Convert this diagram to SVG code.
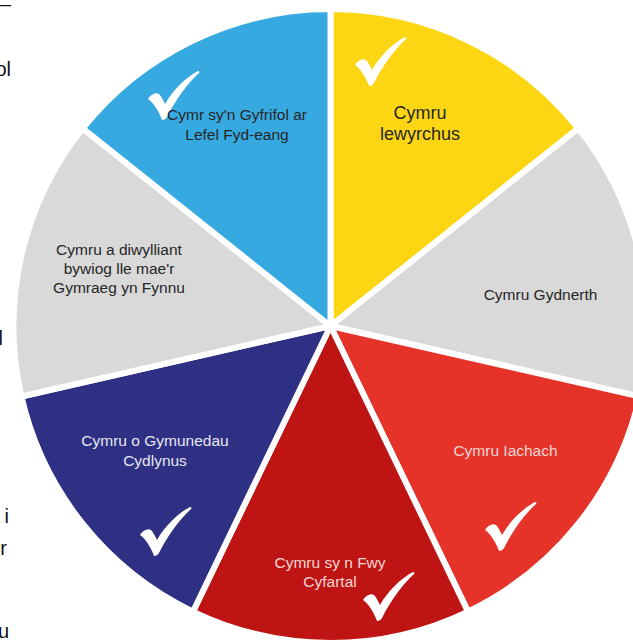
<svg xmlns="http://www.w3.org/2000/svg" width="633" height="640" viewBox="0 0 633 640">
<style>
.seg{stroke:#FFFFFF;stroke-width:6;stroke-linejoin:round}
.lbl{font-family:"Liberation Sans",Arial,sans-serif;font-size:15.5px;text-anchor:middle}
.dark{fill:#262626}
.light{fill:#E6E6EE}
.pink{fill:#F6D6D2}
.frag{font-family:"Liberation Sans",Arial,sans-serif;font-size:20px;fill:#111111;text-anchor:end}
.chk{fill:#FFFFFF}
</style>
<defs>
<path id="check" d="M0,28 C3,23 8,21 11,23 C13,25 15,29 17,33 C25,19 37,7 50,0 C51,0 52,1 51,2 C40,12 28,28 19,46 C18,48 16,49 14,49 C12,43 7,33 0,28 Z"/>
</defs>
<rect x="0" y="0" width="633" height="640" fill="#FFFFFF"/>
<g id="fragments">
<text class="frag" x="11" y="11">–</text>
<text class="frag" x="11" y="76">ol</text>
<text class="frag" x="3" y="345">l</text>
<text class="frag" x="9" y="523">i</text>
<text class="frag" x="7" y="555">r</text>
<text class="frag" x="9" y="638">u</text>
</g>
<g id="seg-yellow">
<path class="seg" fill="#FCD612" d="M330.5,326 L330.5,9 A317,317 0 0 1 578.3,128.4 Z"/>
<use href="#check" class="chk" transform="translate(355,37)"/>
<text class="lbl dark" style="font-size:18px" x="420" y="119">Cymru</text>
<text class="lbl dark" style="font-size:18px" x="420" y="140">lewyrchus</text>
</g>
<g id="seg-gray-right">
<path class="seg" fill="#D9D9D9" d="M330.5,326 L578.3,128.4 A317,317 0 0 1 639.6,396.5 Z"/>
<text class="lbl dark" x="540.5" y="300">Cymru Gydnerth</text>
</g>
<g id="seg-red">
<path class="seg" fill="#E5332A" d="M330.5,326 L639.6,396.5 A317,317 0 0 1 468,611.6 Z"/>
<text class="lbl pink" x="505.5" y="456">Cymru Iachach</text>
<use href="#check" class="chk" transform="translate(485,502)"/>
</g>
<g id="seg-darkred">
<path class="seg" fill="#BE1414" d="M330.5,326 L468,611.6 A317,317 0 0 1 193,611.6 Z"/>
<text class="lbl pink" x="330" y="568">Cymru sy n Fwy</text>
<text class="lbl pink" x="330" y="587">Cyfartal</text>
<use href="#check" class="chk" transform="translate(363,572)"/>
</g>
<g id="seg-navy">
<path class="seg" fill="#2E3084" d="M330.5,326 L193,611.6 A317,317 0 0 1 21.4,396.5 Z"/>
<text class="lbl light" x="155" y="446">Cymru o Gymunedau</text>
<text class="lbl light" x="155" y="466">Cydlynus</text>
<use href="#check" class="chk" transform="translate(140,507)"/>
</g>
<g id="seg-gray-left">
<path class="seg" fill="#D9D9D9" d="M330.5,326 L21.4,396.5 A317,317 0 0 1 82.7,128.4 Z"/>
<text class="lbl dark" x="119" y="255">Cymru a diwylliant</text>
<text class="lbl dark" x="119" y="274">bywiog lle mae'r</text>
<text class="lbl dark" x="119" y="293">Gymraeg yn Fynnu</text>
</g>
<g id="seg-blue">
<path class="seg" fill="#36A9E1" d="M330.5,326 L82.7,128.4 A317,317 0 0 1 330.5,9 Z"/>
<use href="#check" class="chk" transform="translate(148,71)"/>
<text class="lbl dark" x="237" y="120">Cymr sy'n Gyfrifol ar</text>
<text class="lbl dark" x="237" y="140">Lefel Fyd-eang</text>
</g>
</svg>
